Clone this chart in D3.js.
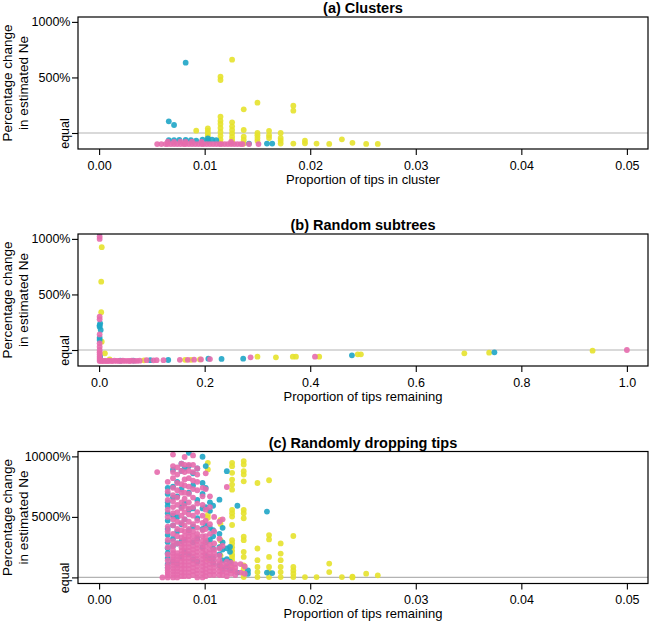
<!DOCTYPE html>
<html><head><meta charset="utf-8">
<script src="https://cdn.jsdelivr.net/npm/d3@7"></script>
<style>
body{margin:0;background:#fff;}
svg{display:block;font-family:"Liberation Sans",Arial,Helvetica,sans-serif;}
</style></head><body><svg id="chart" width="649" height="622"></svg>
<script>
// ---------------- DATA ----------------
const titles = ["(a) Clusters", "(b) Random subtrees", "(c) Randomly dropping tips"];
const xLabels = ["Proportion of tips in cluster", "Proportion of tips remaining", "Proportion of tips remaining"];
const yLabelLines = ["Percentage change", "in estimated Ne"];

const aXTicks = [0, 0.01, 0.02, 0.03, 0.04, 0.05];
const aXTickLabels = ["0.00", "0.01", "0.02", "0.03", "0.04", "0.05"];
const bXTicks = [0, 0.2, 0.4, 0.6, 0.8, 1.0];
const bXTickLabels = ["0.0", "0.2", "0.4", "0.6", "0.8", "1.0"];
const abYTicks = [0, 500, 1000];
const abYTickLabels = ["equal", "500%", "1000%"];
const cYTicks = [0, 5000, 10000];
const cYTickLabels = ["equal", "5000%", "10000%"];

const seriesNames = ["yellow", "teal", "pink"];

// Panel (a): columns [proportion, [percentage changes]]
const aYellow = [
  [0.0092, [21]],
  [0.0103, [42, 20, -3, -25, -50, -80]],
  [0.0115, [507, 477, 147, 110, 81, 45, 10, -25, -60, -90]],
  [0.0126, [660, 96, 60, 27, -3, -33, -63, -90]],
  [0.0137, [213, 27, -33, -63, -95]],
  [0.0150, [273, 0, -20, -45, -70]],
  [0.0161, [20, -20, -45]],
  [0.0172, [0, -45, -69, -95]],
  [0.0184, [246, 201, -95]],
  [0.0195, [-69, -93]],
  [0.0206, [-95]],
  [0.0218, [-98]],
  [0.0230, [-57]],
  [0.0240, [-88]],
  [0.0253, [-98]],
  [0.0264, [-98]]
];
const aTeal = [
  [0.0066, [105, -65]],
  [0.0071, [72, -65]],
  [0.0076, [-63]],
  [0.0082, [633, -63]],
  [0.0087, [-65]],
  [0.0092, [-68]],
  [0.0098, [-60]],
  [0.0103, [-48, -68]],
  [0.0107, [-60]],
  [0.0111, [-65]],
  [0.0142, [-95]],
  [0.0159, [-95]],
  [0.0164, [-95]]
];
const aPink = [
  [0.0055, [-100]], [0.0059, [-100]], [0.0063, [-100]], [0.0065, [-100, -78]],
  [0.0068, [-100]], [0.0071, [-100, -80]], [0.0074, [-100]], [0.0077, [-100, -78]],
  [0.0080, [-100]], [0.0082, [-100, -80]], [0.0085, [-100]], [0.0088, [-100, -78]],
  [0.0091, [-100]], [0.0094, [-100]], [0.0097, [-100, -80]], [0.0099, [-100]],
  [0.0102, [-100]], [0.0105, [-100]], [0.0108, [-100]], [0.0111, [-100]],
  [0.0114, [-100]], [0.0116, [-100]], [0.0119, [-100]], [0.0122, [-100]],
  [0.0125, [-100, -80]], [0.0128, [-100]], [0.0131, [-100]], [0.0134, [-100]],
  [0.0136, [-100]], [0.0142, [-100]], [0.0151, [-100]]
];

// Panel (b): points [proportion, percentage change]
const bYellow = [
  [0.005, 925], [0.004, 615], [0.004, 340], [0.005, 75], [0.011, -30], [0.020, -85],
  [0.085, -93], [0.163, -88], [0.174, -88], [0.191, -85], [0.300, -60], [0.335, -66],
  [0.367, -60], [0.373, -60], [0.417, -60], [0.490, -39], [0.496, -39], [0.692, -30],
  [0.739, -24], [0.935, -6]
];
const bTeal = [
  [0.001, 1051], [0.002, 240], [0.001, 222], [0.001, 210], [0.003, 180], [0.001, 111],
  [0.001, 90], [0.002, -60], [0.040, -96], [0.065, -95], [0.097, -92], [0.131, -90],
  [0.207, -78], [0.232, -80], [0.273, -78], [0.479, -48], [0.749, -21]
];
const bPink = [
  [0.001, 1021], [0.001, 1000], [0.001, 300], [0.001, 276], [0.001, 140], [0.001, 60],
  [0.001, 30], [0.001, 0], [0.001, -20], [0.001, -40], [0.001, -60], [0.001, -80],
  [0.001, -100], [0.002, -90], [0.004, -95], [0.006, -100], [0.009, -98], [0.012, -97],
  [0.015, -100], [0.018, -97], [0.021, -98], [0.025, -100], [0.029, -96], [0.033, -98],
  [0.037, -97], [0.041, -99], [0.045, -96], [0.049, -98], [0.054, -97], [0.058, -99],
  [0.062, -96], [0.067, -98], [0.072, -97], [0.077, -96], [0.090, -92], [0.103, -93],
  [0.109, -92], [0.122, -92], [0.153, -88], [0.168, -88], [0.180, -87], [0.193, -85],
  [0.210, -82], [0.287, -66], [0.409, -60], [1.000, 0]
];

// Panel (c): columns [proportion, [percentage changes]]
const cYellow = [
  [0.0103, [9470, 8920, 5170, 4920, 3000, 1500]],
  [0.0115, [4750, 4420, 3080, 2530, 1800, 900]],
  [0.0126, [9470, 9190, 8640, 8080, 7670, 7250, 5580, 5310, 5030, 4330, 3080, 2800, 2500, 2200, 1900, 1690, 1420, 860, 580]],
  [0.0137, [9610, 9330, 8780, 8500, 7940, 5580, 5310, 4890, 3360, 3080, 2110, 1690, 1000, 720, 310, 30]],
  [0.0150, [7800, 2390, 1420, 860, 440, 30]],
  [0.0161, [8030, 3500, 3140, 1690, 860, 440, 30]],
  [0.0172, [2810, 1970, 1420, 860, 440, 30]],
  [0.0184, [3420, 860, 580, 300, 30]],
  [0.0195, [30]],
  [0.0206, [30]],
  [0.0218, [1140, 440]],
  [0.0230, [30]],
  [0.0240, [60, 0]],
  [0.0253, [310]],
  [0.0264, [170]]
];
const cTeal = [
  [0.0065, [7400, 6900, 6200, 5900, 5300, 4700, 4000, 3500, 2900, 2400, 2000, 1600, 1100, 800]],
  [0.0070, [8900, 7500, 6600, 5100, 4300, 3200, 2600, 1300]],
  [0.0074, [7900, 6700, 5000, 3800, 2800, 1100]],
  [0.0078, [9400, 8800, 7300, 5800, 4400, 3000, 1700]],
  [0.0081, [9000, 6100, 4800, 3100, 2100]],
  [0.0085, [10300, 9200, 7000, 5600, 3900, 1900]],
  [0.0089, [8600, 7600, 5700, 4200, 2900, 1500]],
  [0.0093, [9000, 6400, 4900, 3200, 1300]],
  [0.0098, [9970, 7800, 6890, 5700, 4000, 2500]],
  [0.0101, [9200, 7400, 5800, 4300, 2900, 1800]],
  [0.0105, [6200, 5500, 4100, 3100, 1600]],
  [0.0108, [5920, 3900, 3400, 2400, 1600, 1200]],
  [0.0114, [6420, 3600, 2500, 1900, 1000]],
  [0.0117, [4100, 2900, 2300, 1400, 700]],
  [0.0121, [8780, 2400, 1500, 900]],
  [0.0124, [2530, 2110, 1300, 600]],
  [0.0131, [5920, 400]],
  [0.0141, [570, 300]],
  [0.0159, [5440, 400]],
  [0.0164, [360]]
];
const cPink = [
  [0.0055, [8700]],
  [0.0060, [0]],
  [0.0065, [7900, 7100, 6400, 5600, 5000, 4200, 3800, 3100, 2500, 1900, 1400, 1000, 800, 600, 400, 200, 0]],
  [0.0070, [10150, 9200, 8700, 8200, 7400, 6800, 6300, 5800, 5300, 4800, 4300, 3600, 3000, 2600, 2250, 2000, 1750, 1500, 1250, 1000, 750, 500, 250, 0]],
  [0.0074, [9100, 8500, 7800, 7200, 6600, 6000, 5400, 4600, 4000, 3400, 2800, 2000, 1750, 1500, 1250, 1000, 750, 500, 250, 0]],
  [0.0078, [9400, 8800, 7700, 7000, 6200, 5700, 5100, 4500, 3900, 3300, 2800, 2500, 2200, 1900, 1600, 1300, 1000, 700, 400, 100]],
  [0.0081, [9950, 9300, 8700, 8100, 7600, 7000, 6500, 5900, 5400, 4800, 4300, 3800, 3400, 3100, 2800, 2500, 2200, 1900, 1600, 1300, 1000, 700, 400, 100]],
  [0.0085, [9300, 8800, 8200, 7500, 6900, 6200, 5700, 5200, 4600, 4000, 3700, 3400, 3100, 2800, 2500, 2200, 1900, 1600, 1300, 1000, 700, 400, 100]],
  [0.0089, [10080, 9300, 8700, 8000, 7300, 6600, 5800, 5100, 4400, 3800, 3400, 3000, 2600, 2300, 2000, 1700, 1400, 1100, 800, 500, 200]],
  [0.0093, [9000, 8500, 7900, 7200, 6100, 5400, 4700, 4100, 3600, 3300, 3000, 2700, 2400, 2100, 1800, 1500, 1200, 900, 600, 300, 0]],
  [0.0098, [7400, 6700, 6000, 5100, 4500, 3900, 3400, 3000, 2700, 2400, 2100, 1800, 1500, 1200, 900, 600, 300, 0]],
  [0.0101, [8600, 7300, 5600, 4700, 4000, 3400, 3000, 2600, 2200, 1900, 1600, 1300, 1000, 700, 400, 100]],
  [0.0105, [6700, 5800, 4400, 3600, 2700, 2300, 2000, 1700, 1400, 1100, 800, 500, 200]],
  [0.0109, [5000, 3800, 2800, 2300, 2000, 1700, 1400, 1100, 800, 500, 200]],
  [0.0114, [4600, 3200, 2400, 1800, 1400, 1100, 800, 500, 200]],
  [0.0117, [4800, 2600, 1100, 800, 500, 200]],
  [0.0121, [7470, 1300, 1000, 700, 400, 100]],
  [0.0125, [1200, 900, 600, 300]],
  [0.0129, [1100, 800, 500, 200]],
  [0.0134, [1100, 400]],
  [0.0138, [900, 300]]
];

// ---------------- DRAWING ----------------
const colors = { yellow: "#E6E22C", teal: "#1EA5C6", pink: "#E56BAD" };
const flatCols = cols => cols.flatMap(([x, ys]) => ys.map(y => [x, y]));

const panels = [
  { title: titles[0], xlabel: xLabels[0], xTicks: aXTicks, xTickLabels: aXTickLabels,
    yTicks: abYTicks, yTickLabels: abYTickLabels, xDom: [0, 0.05], yDom: [-100, 1000], top: 17,
    series: { yellow: flatCols(aYellow), teal: flatCols(aTeal), pink: flatCols(aPink) } },
  { title: titles[1], xlabel: xLabels[1], xTicks: bXTicks, xTickLabels: bXTickLabels,
    yTicks: abYTicks, yTickLabels: abYTickLabels, xDom: [0, 1], yDom: [-100, 1000], top: 234,
    series: { yellow: bYellow, teal: bTeal, pink: bPink } },
  { title: titles[2], xlabel: xLabels[2], xTicks: aXTicks, xTickLabels: aXTickLabels,
    yTicks: cYTicks, yTickLabels: cYTickLabels, xDom: [0, 0.05], yDom: [-100, 10000], top: 451.5,
    series: { yellow: flatCols(cYellow), teal: flatCols(cTeal), pink: flatCols(cPink) } }
];

const svg = d3.select("#chart");
const left = 78, right = 648, ph = 132;
const pad = d => { const r = d[1] - d[0]; return [d[0] - 0.04 * r, d[1] + 0.04 * r]; };

panels.forEach((p, i) => {
  const top = p.top, bottom = top + ph;
  const x = d3.scaleLinear().domain(pad(p.xDom)).range([left, right]);
  const y = d3.scaleLinear().domain(pad(p.yDom)).range([bottom, top]);
  const g = svg.append("g");

  const clipId = "clip" + i;
  svg.append("clipPath").attr("id", clipId).append("rect")
    .attr("x", left).attr("y", top).attr("width", right - left).attr("height", ph);

  // equal line
  g.append("line").attr("x1", left).attr("x2", right)
    .attr("y1", y(0)).attr("y2", y(0)).attr("stroke", "#b3b3b3").attr("stroke-width", 1.1);

  // points
  const pg = g.append("g").attr("clip-path", `url(#${clipId})`);
  seriesNames.forEach(name => {
    pg.selectAll(null).data(p.series[name]).enter().append("circle")
      .attr("cx", d => x(d[0])).attr("cy", d => y(d[1])).attr("r", 2.9)
      .attr("fill", colors[name]).attr("fill-opacity", 0.9);
  });

  // box
  g.append("rect").attr("x", left).attr("y", top).attr("width", right - left).attr("height", ph)
    .attr("fill", "none").attr("stroke", "#000").attr("stroke-width", 1.2);

  // x axis
  const xa = d3.axisBottom(x).tickValues(p.xTicks)
    .tickFormat((d, k) => p.xTickLabels[k]).tickSize(6).tickSizeOuter(0).tickPadding(6);
  const xg = g.append("g").attr("transform", `translate(0,${bottom})`).call(xa);
  xg.select(".domain").remove();
  xg.selectAll("line").attr("stroke", "#000").attr("stroke-width", 1.1);
  xg.selectAll("text").attr("font-size", 12.5).attr("fill", "#000")
    .attr("font-family", "Liberation Sans, Arial, sans-serif");

  // y axis
  const ya = d3.axisLeft(y).tickValues(p.yTicks)
    .tickFormat((d, k) => p.yTickLabels[k]).tickSize(6).tickSizeOuter(0).tickPadding(1.5);
  const yg = g.append("g").attr("transform", `translate(${left},0)`).call(ya);
  yg.select(".domain").remove();
  yg.selectAll("line").attr("stroke", "#000").attr("stroke-width", 1.1);
  yg.selectAll("text").attr("font-size", 12.5).attr("fill", "#000")
    .attr("font-family", "Liberation Sans, Arial, sans-serif");
  yg.selectAll(".tick").filter(d => d === 0).select("text")
    .attr("transform", "rotate(-90)").attr("x", 0).attr("y", -9).attr("dy", 0)
    .attr("text-anchor", "middle");

  // title
  g.append("text").attr("x", (left + right) / 2).attr("y", top - 4)
    .attr("text-anchor", "middle").attr("font-weight", "bold").attr("font-size", 14.5)
    .text(p.title);

  // x label
  g.append("text").attr("x", (left + right) / 2).attr("y", bottom + 34.5)
    .attr("text-anchor", "middle").attr("font-size", 13).text(p.xlabel);

  // y label
  const cy = (top + bottom) / 2;
  [12, 28].forEach((bx, k) => {
    g.append("text").attr("transform", `translate(${bx},${cy}) rotate(-90)`)
      .attr("text-anchor", "middle").attr("font-size", 13.5).text(yLabelLines[k]);
  });
});
</script></body></html>
